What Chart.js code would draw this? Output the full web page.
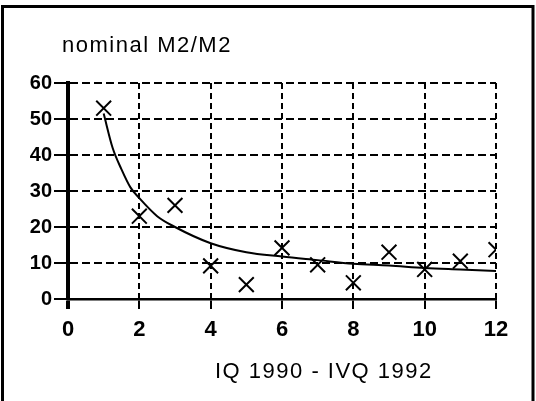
<!DOCTYPE html>
<html>
<head>
<meta charset="utf-8">
<script src="https://cdn.jsdelivr.net/npm/chart.js@4"></script>
<style>
  html, body { margin: 0; padding: 0; background: #fff; }
  #wrap { width: 536px; height: 401px; }
</style>
</head>
<body>
<div id="wrap"><canvas id="m2Chart" width="536" height="401"></canvas></div>
<script>
// quarters IQ 1990 .. IVQ 1992
const quarters = [1, 2, 3, 4, 5, 6, 7, 8, 9, 10, 11, 12];
const ratio = [53, 23, 26, 9.2, 4, 14.2, 9.5, 4.5, 13, 8.2, 10.5, 13.7];

// fitted curve
const fitX = [1, 1.25, 1.5, 1.75, 2, 2.5, 3, 4, 5, 6, 7, 8, 9, 10, 11, 12];
const fitY = [51.5, 42, 36, 31, 28, 23, 20, 15.5, 13, 11.8, 10.8, 9.8, 9.3, 8.6, 8.2, 7.8];

const xTicks = [0, 2, 4, 6, 8, 10, 12];
const yTicks = [0, 10, 20, 30, 40, 50, 60];

const titleText = 'nominal M2/M2';
const xCaption = 'IQ 1990 - IVQ 1992';

const font = 'Liberation Sans';

// frame + texts
const framePlugin = {
  id: 'frame',
  afterDraw(chart) {
    const c = chart.ctx;
    c.save();
    c.strokeStyle = '#000';
    c.lineWidth = 3;
    c.beginPath();
    c.moveTo(2.5, 401);
    c.lineTo(2.5, 6.5);
    c.lineTo(533, 6.5);
    c.lineTo(533, 401);
    c.stroke();

    c.fillStyle = '#000';
    c.textBaseline = 'alphabetic';
    c.textAlign = 'left';
    c.font = '22px "' + font + '"';
    c.letterSpacing = '1.5px';
    c.fillText(titleText, 62, 52);
    c.fillText(xCaption, 215, 378);
    c.restore();
  }
};

function init() {
  const ctx = document.getElementById('m2Chart').getContext('2d');
  new Chart(ctx, {
    type: 'scatter',
    data: {
      datasets: [{
        label: 'fit',
        type: 'line',
        data: fitX.map((x, i) => ({ x: x, y: fitY[i] })),
        borderColor: '#000',
        borderWidth: 2,
        pointRadius: 0,
        tension: 0.4,
        cubicInterpolationMode: 'monotone',
        fill: false
      }, {
        label: 'M2/M2',
        data: quarters.map((q, i) => ({ x: q, y: ratio[i] })),
        pointStyle: 'crossRot',
        pointRadius: 10.5,
        pointBorderWidth: 2,
        borderColor: '#000',
        backgroundColor: '#000',
        showLine: false
      }]
    },
    options: {
      responsive: false,
      animation: false,
      layout: { padding: { top: 83, right: 40, left: 0, bottom: 0 } },
      plugins: {
        legend: { display: false },
        tooltip: { enabled: false }
      },
      scales: {
        x: {
          type: 'linear',
          min: 0,
          max: 12,
          afterBuildTicks: s => { s.ticks = xTicks.map(v => ({ value: v })); },
          afterFit: s => { s.height = 102; },
          ticks: {
            color: '#000',
            font: { family: font, size: 22, weight: 'bold' },
            padding: 8,
            maxRotation: 0
          },
          grid: {
            color: '#000',
            lineWidth: 2,
            tickLength: 10,
            tickColor: '#000',
            tickWidth: c => (c.tick && c.tick.value === 0 ? 4 : 2),
            tickBorderDash: []
          },
          border: { display: true, color: '#000', width: 2.5, dash: [6, 4] }
        },
        y: {
          type: 'linear',
          min: 0,
          max: 60,
          afterBuildTicks: s => { s.ticks = yTicks.map(v => ({ value: v })); },
          afterFit: s => { s.width = 68; },
          ticks: {
            color: '#000',
            font: { family: font, size: 20, weight: 'bold' },
            padding: 2
          },
          grid: {
            color: '#000',
            lineWidth: 2,
            tickLength: 14,
            tickColor: '#000',
            tickWidth: 2,
            tickBorderDash: []
          },
          border: { display: true, color: '#000', width: 4, dash: [8, 4] }
        }
      }
    },
    plugins: [framePlugin]
  });
}

window.addEventListener('DOMContentLoaded', init);
</script>
</body>
</html>
